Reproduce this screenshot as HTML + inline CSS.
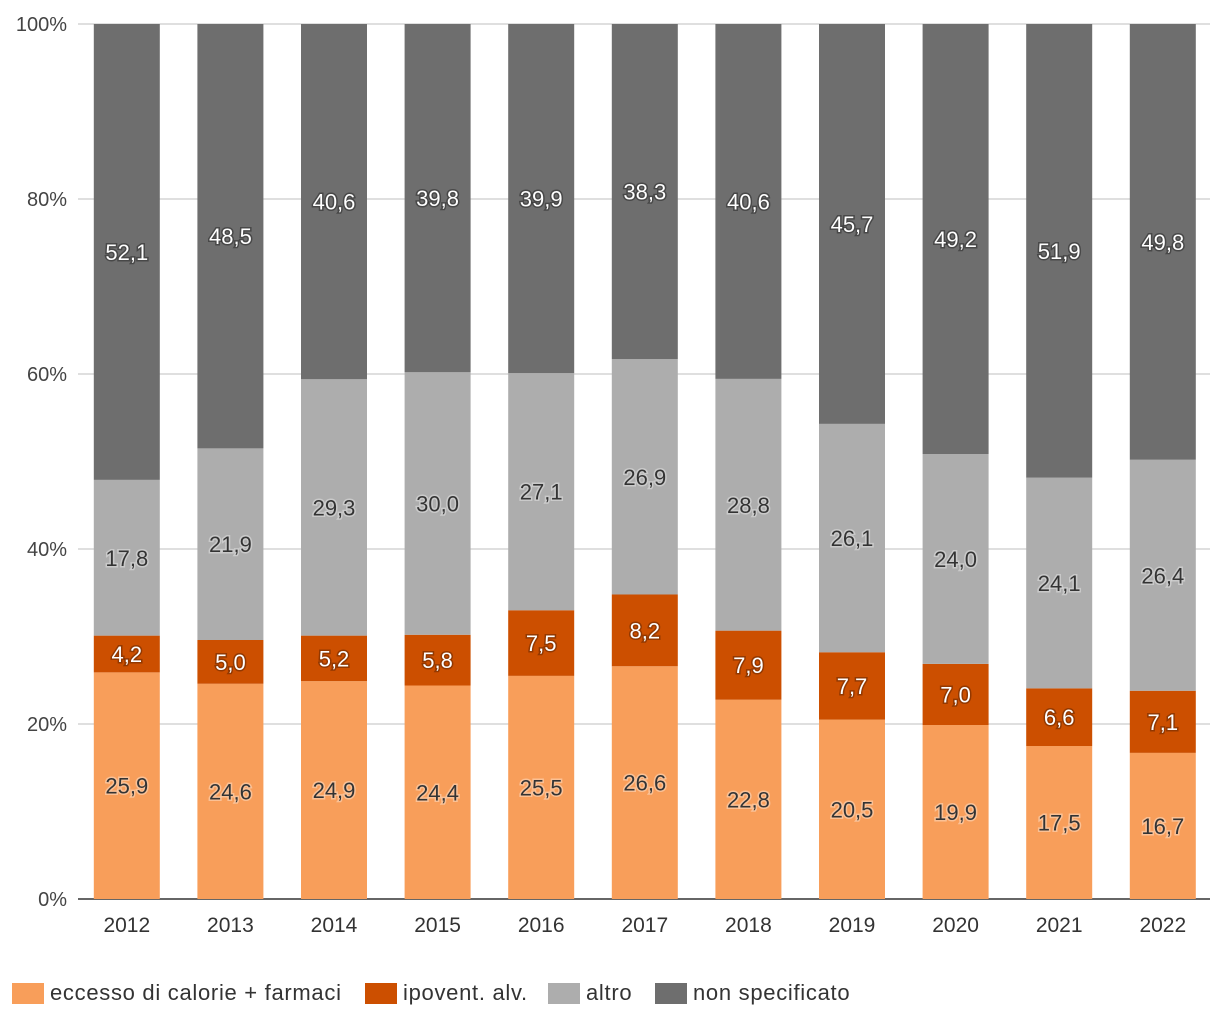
<!DOCTYPE html>
<html><head><meta charset="utf-8"><style>
body{margin:0;background:#fff;font-family:"Liberation Sans",sans-serif;}
svg text{font-family:"Liberation Sans",sans-serif;}
</style></head><body>
<svg id="c" width="1220" height="1020"></svg>
<script>
const years=["2012","2013","2014","2015","2016","2017","2018","2019","2020","2021","2022"];
const eccesso=[25.9,24.6,24.9,24.4,25.5,26.6,22.8,20.5,19.9,17.5,16.7];
const ipovent=[4.2,5.0,5.2,5.8,7.5,8.2,7.9,7.7,7.0,6.6,7.1];
const altro=[17.8,21.9,29.3,30.0,27.1,26.9,28.8,26.1,24.0,24.1,26.4];
const nonspec=[52.1,48.5,40.6,39.8,39.9,38.3,40.6,45.7,49.2,51.9,49.8];
const yTicks=[0,20,40,60,80,100];
const series=[
 {name:"eccesso di calorie + farmaci",vals:eccesso,color:"#f89e5a",txt:"#333",halo:"#fde3cf",key:"eccesso"},
 {name:"ipovent. alv.",vals:ipovent,color:"#cc4f00",txt:"#fff",halo:"#5a2200",key:"ipovent"},
 {name:"altro",vals:altro,color:"#adadad",txt:"#333",halo:"#e8e8e8",key:"altro"},
 {name:"non specificato",vals:nonspec,color:"#6e6e6e",txt:"#fff",halo:"#222",key:"non-specificato"}];
const svg=document.getElementById('c');
const NS="http://www.w3.org/2000/svg";
const x0=75,band=103.6,bw=66,yB=899,yT=24;
const xs=i=>x0+band*i+band/2;
const ys=p=>yB-(yB-yT)*p/100;
function mk(t,a,p){const e=document.createElementNS(NS,t);for(const k in a)e.setAttribute(k,a[k]);(p||svg).appendChild(e);return e;}
yTicks.forEach(t=>{
 const l=mk('line',{x1:78,x2:1210,y1:ys(t),y2:ys(t),stroke:t===0?'#333':'#ccc','stroke-width':t===0?1.5:1.2});
 
 
 const tx=mk('text',{x:67,y:ys(t)+7,'text-anchor':'end','font-size':20,fill:'#444'});tx.textContent=t+'%';
 
 
});
years.forEach((yr,i)=>{
 const tot=series.reduce((s,se)=>s+se.vals[i],0);
 let acc=0;
 series.forEach(se=>{
  const v=se.vals[i];const a=acc/tot*100,b=(acc+v)/tot*100;acc+=v;
  const r=mk('rect',{x:xs(i)-bw/2,y:ys(b),width:bw,height:ys(a)-ys(b),fill:se.color});
  
  
  const lbl=v.toFixed(1).replace('.',',');
  const cy=(ys(a)+ys(b))/2+8;
  const h=mk('text',{x:xs(i),y:cy,'text-anchor':'middle','font-size':22,fill:se.halo,stroke:se.halo,'stroke-width':3,'stroke-opacity':0.5});h.textContent=lbl;
  
  
  const t=mk('text',{x:xs(i),y:cy,'text-anchor':'middle','font-size':22,fill:se.txt});t.textContent=lbl;
  
  
 });
 const xt=mk('text',{x:xs(i),y:932,'text-anchor':'middle','font-size':21,fill:'#333'});xt.textContent=yr;
 
 
});
const lx=[12,365,548,655];
series.forEach((se,k)=>{
 const r=mk('rect',{x:lx[k],y:983,width:32,height:21,fill:se.color});
 
 
 const t=mk('text',{x:lx[k]+38,y:1000,'font-size':22,'letter-spacing':0.7,fill:'#333'});t.textContent=se.name;
 
 
});
</script>
</body></html>
